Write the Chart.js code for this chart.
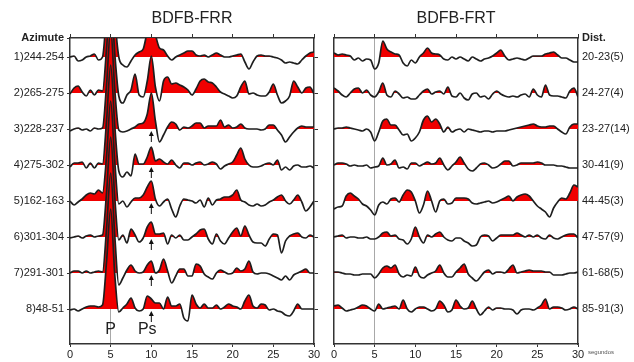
<!DOCTYPE html>
<html>
<head>
<meta charset="utf-8">
<script src="https://cdn.jsdelivr.net/npm/chart.js@4.4.1/dist/chart.umd.min.js"></script>
<style>
  body { margin: 0; background: #fff; width: 634px; height: 362px; overflow: hidden; position: relative; }
  .box { position: absolute; top: 0; height: 362px; }
  #leftBox { left: 0; width: 322px; }
  #rightBox { left: 322px; width: 312px; }
</style>
</head>
<body>
<div class="box" id="leftBox"><canvas id="frrChart"></canvas></div>
<div class="box" id="rightBox"><canvas id="frtChart"></canvas></div>
<script>
// time samples (s)
var times = [0,0.5,1,1.5,2,2.5,3,3.5,4,4.5,5,5.5,6,6.5,7,7.5,8,8.5,9,9.5,10,
    10.5,11,11.5,12,12.5,13,13.5,14,14.5,15,15.5,16,16.5,17,17.5,18,18.5,19,19.5,20,
    20.5,21,21.5,22,22.5,23,23.5,24,24.5,25,25.5,26,26.5,27,27.5,28,28.5,29,29.5,30];
var xTicks = [0, 5, 10, 15, 20, 25, 30];

var azimuthLabels = ['1)244-254','2)265-275','3)228-237','4)275-302','5)162-163','6)301-304','7)291-301','8)48-51'];
var distLabels    = ['20-23(5)','24-27(4)','23-27(14)','30-41(9)','44-45(3)','47-57(9)','61-68(5)','85-91(3)'];

// BDFB-FRR traces (radial)
var frr1 = [0,1,-4,-3,0,1,3,-3,0, 45,100,40,0, -8,-10,-4,2,5,8,25,35, 22,9,7,1,-3,0,2,4, 6,6,2,1,2,0,2,4, 2,0,0,1,2,3,-5,-12, -5,1,2,1,1,0,-1,-3, -6,-5,-6,-7,-3,1,4,5];
var frr2 = [-1,5,7,1,-3,3,-2,3,2, 45,100,40,-3, -10,-2,3,19,-2,-4,12,37, 6,-8,12,16,9,10,8,6, 3,-2,4,12,14,11,10,6, 1,-1,-3,-5,-3,6,12,-1, 0,-2,-3,-3,1,9,-2,-10, -8,-3,12,6,0,5,6,-1];
var frr3 = [-2,0,1,-1,0,-2,1,0,1, 45,100,40,-1, -3,-2,0,2,5,6,15,36, 8,-13,-6,2,7,5,-1,2, 1,3,6,6,1,3,3,3, 9,2,4,1,2,5,1,0, 0,0,-1,0,4,4,-1,-6, -13,-8,-3,1,3,2,2,2];
var frr4 = [-2,2,2,3,-3,2,-3,2,1, 45,100,40,-6, -12,-7,-11,11,1,1,8,18, 4,6,3,1,5,0,-3,2, 2,0,2,3,0,1,3,1, -4,-1,1,3,10,17,6,0, -2,-2,-1,1,2,0,5,-5, -2,-5,-1,0,-2,-2,-1,-3];
var frr5 = [0,-4,-1,2,6,8,7,11,8, 45,100,40,-3, 0,-6,-1,3,3,6,14,20, 2,-5,-1,2,-8,-16,-5,2, 1,0,-2,1,-6,3,-4,1, 2,4,4,6,11,1,-1,-4, -5,-3,-5,-4,-1,1,4,6, 0,-3,1,6,-1,-10,-6,0];
var frr6 = [-1,0,1,-1,1,2,0,1,2, 45,100,40,-3, 2,-6,8,2,-5,-1,10,15, 3,3,4,-7,2,-1,2,-3, -3,0,3,7,8,-2,-7,3, -4,-7,-1,5,9,1,11,2, -5,-6,-6,-9,-2,3,2,-16, -4,1,3,4,0,-1,2,0];
var frr7 = [0,2,2,0,2,0,1,2,1, 45,100,38,-12, -5,3,8,2,0,1,8,12, 0,3,14,2,-10,-3,4,4, -3,-3,9,7,-1,-4,-6,0, 3,1,-1,0,5,2,4,12, 1,-1,0,0,-1,-3,-5,-7, -3,-7,-2,0,2,4,0,0];
var frr8 = [-1,0,-2,0,2,3,3,2,4, 48,100,35,-3, 1,5,11,1,-2,0,13,10, 6,6,0,12,3,3,5,-9, -12,14,5,1,5,1,1,4, 0,2,5,3,2,0,8,14, 3,1,5,4,-1,0,-2,-3, -6,-7,-2,5,0,0,0,0];

// BDFB-FRT traces (transverse)
var frt1 = [4,2,3,2,1,-3,-1,-4,-2, -3,-12,-6,16, 8,5,3,2,-6,-9,-3,-6, 0,4,9,4,3,2,-2,-3, 0,-2,0,-2,-4,0,-2,-4, -2,-1,1,4,7,1,-3,-2, -1,-2,-3,-1,1,1,1,3, 4,5,2,-1,-1,-3,-5,-5];
var frt2 = [5,2,-2,-4,0,4,5,0,3, -2,-4,1,10, -2,-4,2,-1,-5,-4,-6,-6, -2,2,4,-1,1,2,-1,6, -3,-4,0,-5,-7,-1,0,-4, -3,-6,-1,2,-1,-3,-4,-3, -4,-2,-1,-4,4,-2,-4,8, -2,-3,-3,-4,-5,2,5,-4];
var frt3 = [0,1,1,2,1,0,-1,-2,0, -3,-12,-3,8, 10,4,4,-1,-6,-5,-12,-9, -3,9,13,7,10,5,-3,2, -3,-1,0,-3,0,-1,-2,-3, -2,-2,-3,-2,-2,-2,-1,0, 1,2,3,4,5,3,2,2, 3,3,0,-3,-5,2,5,5];
var frt4 = [0,2,2,1,-1,0,-1,-1,0, -3,-2,-1,7, 0,1,5,-3,-2,-4,2,2, -1,1,3,1,2,7,0,-5, -1,3,8,2,-4,-6,-3,1, 2,0,-3,-2,1,4,4,-1, 0,2,2,2,2,3,2,0, 0,0,-1,-1,-2,-3,-3,-3];
var frt5 = [-8,-6,-5,5,8,5,2,-3,-5, -9,-14,-4,-1, -3,2,3,-1,6,11,9,0, -12,-4,10,0,-11,0,2,-3, -2,3,3,3,2,-2,-3,-2, -1,0,-2,-1,1,3,5,0, 4,6,7,5,0,-5,-8,-11, -16,-7,-1,3,2,8,16,14];
var frt6 = [0,1,2,-1,0,0,-1,-1,0, -2,-2,0,4, 5,1,2,-2,-3,-7,-2,10, 0,-6,2,0,3,5,0,-3, -4,-1,-1,-4,-6,-9,-8,0, 2,1,-4,-1,2,2,2,2, 4,2,0,2,0,2,-1,-2, 2,-1,-2,0,2,3,3,-1];
var frt7 = [1,1,0,-1,-1,-2,-2,-1,-1, -1,-5,-1,5, 7,5,8,-1,-4,-2,-3,6, -3,-5,-2,0,2,8,0,-4, -4,1,5,9,-1,-5,-8,-4, 1,3,-1,1,1,0,4,8, 0,1,2,3,2,2,2,1, 1,-2,-2,-2,-1,0,0,1];
var frt8 = [3,4,1,-2,-1,0,2,4,3, 0,-2,5,0, 1,2,3,0,9,0,-3,0, 2,2,0,-2,0,8,4,-3, -1,9,3,0,1,8,0,-6, -2,2,-1,1,1,0,0,-1, -5,-1,0,0,-1,1,4,10, 0,2,2,1,-1,0,2,0];

var frrTraces = [frr1, frr2, frr3, frr4, frr5, frr6, frr7, frr8];
var frtTraces = [frt1, frt2, frt3, frt4, frt5, frt6, frt7, frt8];

var SPACING = 36;      // offset between traces, amplitude units
var YMAX = 19, YMIN = -287;
var PS_TIME = 10;
var psArrows = [2, 3, 4, 5, 6, 7];

var FONT = '"Liberation Sans", Arial, Helvetica, sans-serif';
Chart.defaults.font.family = FONT;
Chart.defaults.color = '#222';

function baseTicks(withHeader) {
    var t = withHeader ? [{value: YMAX}] : [];
    for (var k = 0; k < 8; k++) t.push({value: -k * SPACING});
    return t;
}

function buildDatasets(traces) {
    return traces.map(function(tr, k) {
        var base = -k * SPACING;
        return {
            data: times.map(function(t, i) { return {x: t, y: tr[i] + base}; }),
            order: traces.length - k,   // lower traces drawn on top
            borderColor: '#1e1e1e',
            borderWidth: 1.7,
            pointRadius: 0,
            cubicInterpolationMode: 'monotone',
            fill: {target: {value: base}, above: 'rgb(240,0,0)', below: 'rgba(0,0,0,0)'}
        };
    });
}

function xAxes(title) {
    return {
        x: {
            type: 'linear', min: 0, max: 30, position: 'bottom',
            afterFit: function(s) { s.height = 18; },
            afterBuildTicks: function(s) { s.ticks = xTicks.map(function(v) { return {value: v}; }); },
            ticks: { font: {size: 11}, color: '#222', padding: 1, maxRotation: 0 },
            grid: {
                color: function(c) { return c.tick && c.tick.value === 5 ? '#a8a8a8' : 'rgba(0,0,0,0)'; },
                lineWidth: 1, tickColor: '#333', tickLength: 3
            },
            border: { color: '#333', width: 1.5 }
        },
        x2: {
            type: 'linear', min: 0, max: 30, position: 'top',
            afterFit: function(s) { s.height = 38; },
            afterBuildTicks: function(s) { s.ticks = xTicks.map(function(v) { return {value: v}; }); },
            ticks: { display: false },
            grid: { drawOnChartArea: false, color: '#333', tickLength: 4 },
            border: { color: '#333', width: 1.5 },
            title: { display: true, text: title, font: {size: 16}, color: '#222', padding: {top: 9, bottom: 0} }
        }
    };
}

// arrows and P / Ps labels
var markers = {
    id: 'markers',
    afterDatasetsDraw: function(chart) {
        var c = chart.ctx, xs = chart.scales.x, ys = chart.scales.y;
        var px = xs.getPixelForValue(PS_TIME);
        c.save();
        c.strokeStyle = '#111';
        c.fillStyle = '#111';
        c.lineWidth = 1;
        psArrows.forEach(function(k) {
            var py = ys.getPixelForValue(-k * SPACING);
            c.beginPath(); c.moveTo(px, py + 13); c.lineTo(px, py + 5); c.stroke();
            c.beginPath(); c.moveTo(px, py + 2); c.lineTo(px - 2.5, py + 7); c.lineTo(px + 2.5, py + 7); c.closePath(); c.fill();
        });
        c.font = '16px ' + FONT;
        c.textAlign = 'center';
        c.textBaseline = 'middle';
        c.fillStyle = '#222';
        c.fillText('P', xs.getPixelForValue(5), ys.getPixelForValue(-273));
        c.fillText('Ps', xs.getPixelForValue(9.5), ys.getPixelForValue(-273));
        c.restore();
    }
};

var secondsLabel = {
    id: 'seconds',
    afterDraw: function(chart) {
        var c = chart.ctx, area = chart.chartArea;
        c.save();
        c.font = '6px ' + FONT;
        c.fillStyle = '#555';
        c.textBaseline = 'middle';
        c.fillText('segundos', area.right + 10, area.bottom + 8);
        c.restore();
    }
};

var frrScales = xAxes('BDFB-FRR');
frrScales.y = {
    type: 'linear', min: YMIN, max: YMAX, position: 'left',
    afterFit: function(s) { s.width = 70; },
    afterBuildTicks: function(s) { s.ticks = baseTicks(true); },
    ticks: {
        autoSkip: false, padding: 3, color: '#222',
        font: function(c) { return c.index === 0 ? {size: 11, weight: 'bold'} : {size: 11}; },
        callback: function(v, i) { return i === 0 ? 'Azimute' : azimuthLabels[i - 1]; }
    },
    grid: { drawOnChartArea: false, color: '#333', tickLength: 3 },
    border: { color: '#333', width: 1.5 }
};
frrScales.y2 = {
    type: 'linear', min: YMIN, max: YMAX, position: 'right',
    afterFit: function(s) { s.width = 8; },
    afterBuildTicks: function(s) { s.ticks = baseTicks(false); },
    ticks: { display: false },
    grid: { drawOnChartArea: false, color: '#333', tickLength: 4 },
    border: { color: '#333', width: 1.5 }
};

var frtScales = xAxes('BDFB-FRT');
frtScales.y = {
    type: 'linear', min: YMIN, max: YMAX, position: 'left',
    afterFit: function(s) { s.width = 12; },
    ticks: { display: false },
    grid: { display: false, drawTicks: false },
    border: { color: '#333', width: 1.5 }
};
frtScales.y2 = {
    type: 'linear', min: YMIN, max: YMAX, position: 'right',
    afterFit: function(s) { s.width = 56; },
    afterBuildTicks: function(s) { s.ticks = baseTicks(true); },
    ticks: {
        autoSkip: false, padding: 4, color: '#222',
        font: function(c) { return c.index === 0 ? {size: 11, weight: 'bold'} : {size: 11}; },
        callback: function(v, i) { return i === 0 ? 'Dist.' : distLabels[i - 1]; }
    },
    grid: { display: false, drawTicks: false },
    border: { color: '#333', width: 1.5 }
};

function commonOptions(scales) {
    return {
        responsive: true,
        maintainAspectRatio: false,
        animation: false,
        layout: { padding: 0 },
        plugins: {
            legend: { display: false },
            tooltip: { enabled: false }
        },
        scales: scales
    };
}

var frrChart = new Chart(document.getElementById('frrChart'), {
    type: 'line',
    data: { datasets: buildDatasets(frrTraces) },
    options: commonOptions(frrScales),
    plugins: [markers]
});

var frtChart = new Chart(document.getElementById('frtChart'), {
    type: 'line',
    data: { datasets: buildDatasets(frtTraces) },
    options: commonOptions(frtScales),
    plugins: [secondsLabel]
});
</script>
</body>
</html>
